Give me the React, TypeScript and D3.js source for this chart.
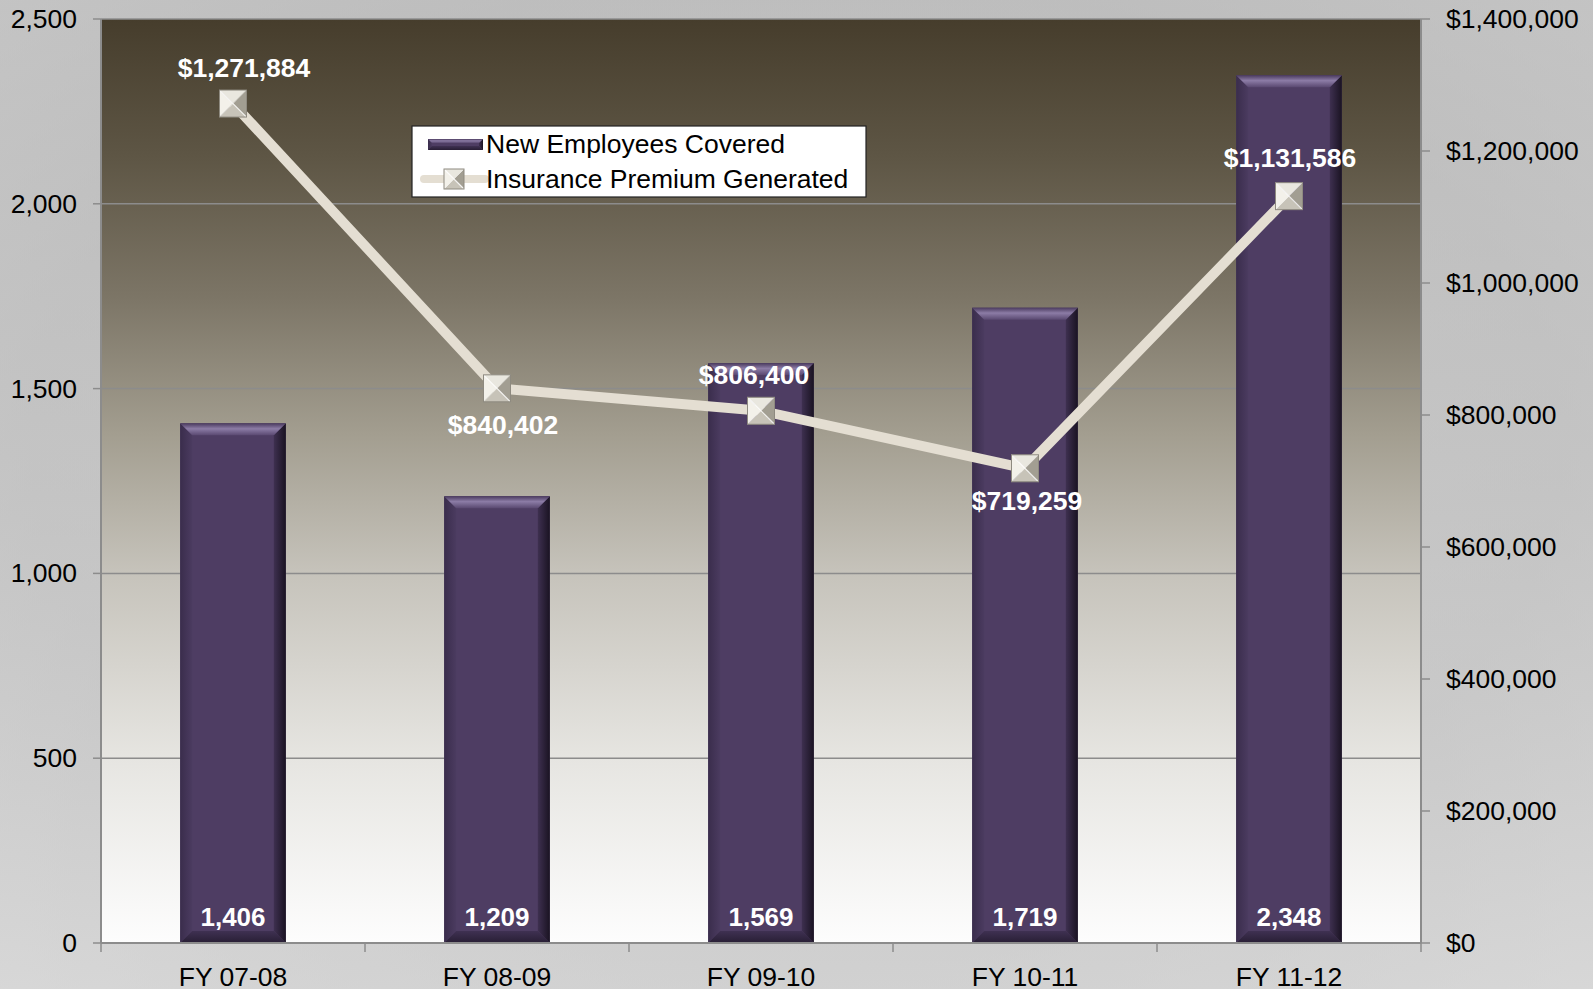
import React from "react";
import * as d3 from "d3";

const categories = ["FY 07-08", "FY 08-09", "FY 09-10", "FY 10-11", "FY 11-12"];
const employeesCovered = [1406, 1209, 1569, 1719, 2348];
const premiumGenerated = [1271884, 840402, 806400, 719259, 1131586];
const leftTicks = [0, 500, 1000, 1500, 2000, 2500];
const rightTicks = [0, 200000, 400000, 600000, 800000, 1000000, 1200000, 1400000];
const seriesNames = ["New Employees Covered", "Insurance Premium Generated"];

const W = 1593;
const H = 989;
const M = { left: 101, right: 1421, top: 19, bottom: 943 };
const FONT = "'Liberation Sans', Arial, Helvetica, sans-serif";
const FS = 26.5;
const BAR = "#4E3D63";
const LINE = "#E4DED2";

const fmtInt = d3.format(",");
const fmtDollar = (v: number) => "$" + d3.format(",")(v);

function BevelBar({ x, y, w, h, b }: { x: number; y: number; w: number; h: number; b: number }) {
  const bb = Math.min(b, h / 2);
  return (
    <g>
      <rect x={x} y={y} width={w} height={h} fill={BAR} />
      <polygon
        points={`${x},${y} ${x + bb},${y + bb} ${x + bb},${y + h - bb} ${x},${y + h}`}
        fill="url(#bevLeft)"
      />
      <polygon
        points={`${x + w},${y} ${x + w - bb},${y + bb} ${x + w - bb},${y + h - bb} ${x + w},${y + h}`}
        fill="url(#bevRight)"
      />
      <polygon
        points={`${x},${y + h} ${x + bb},${y + h - bb} ${x + w - bb},${y + h - bb} ${x + w},${y + h}`}
        fill="url(#bevBottom)"
      />
      <polygon
        points={`${x},${y} ${x + w},${y} ${x + w - bb},${y + bb} ${x + bb},${y + bb}`}
        fill="url(#bevTop)"
      />
    </g>
  );
}

function Marker({ cx, cy, s }: { cx: number; cy: number; s: number }) {
  const h = s / 2;
  const x0 = cx - h, x1 = cx + h, y0 = cy - h, y1 = cy + h;
  return (
    <g>
      <polygon points={`${x0},${y0} ${x1},${y0} ${cx},${cy}`} fill="#E9E7DF" />
      <polygon points={`${x0},${y0} ${x0},${y1} ${cx},${cy}`} fill="#F3F1EA" />
      <polygon points={`${x1},${y0} ${x1},${y1} ${cx},${cy}`} fill="#A29E92" />
      <polygon points={`${x0},${y1} ${x1},${y1} ${cx},${cy}`} fill="#C7C3B8" />
      <line x1={x0} y1={y0} x2={x1} y2={y1} stroke="#FFFFFF" strokeWidth={1.2} opacity={0.8} />
      <line x1={x1} y1={y0} x2={x0} y2={y1} stroke="#FFFFFF" strokeWidth={1} opacity={0.5} />
      <rect x={x0} y={y0} width={s} height={s} fill="none" stroke="#8E8A80" strokeWidth={1} />
    </g>
  );
}

export default function App() {
  const x = d3
    .scaleBand<string>()
    .domain(categories)
    .range([M.left, M.right])
    .paddingInner(0.6)
    .paddingOuter(0.3);
  const step = x.step();
  const yL = d3.scaleLinear().domain([0, 2500]).range([M.bottom, M.top]);
  const yR = d3.scaleLinear().domain([0, 1400000]).range([M.bottom, M.top]);

  const cxOf = (i: number) => (x(categories[i]) as number) + x.bandwidth() / 2;

  const lineGen = d3
    .line<number>()
    .x((_, i) => cxOf(i))
    .y((d) => yR(d));

  // label placement (above / below the marker) and small nudges as in the reference
  const labelAbove = [true, false, true, false, true];
  const labelDx = [11, 6, -7, 2, 1];
  const labelDy = [-27, 46, -27, 42, -29];

  const boundaries = d3.range(categories.length + 1).map((i) => M.left + i * step);

  return (
    <svg
      width={W}
      height={H}
      style={{ position: "fixed", left: 0, top: 0 }}
      fontFamily={FONT}
    >
      <defs>
        <radialGradient id="outerBg" cx="0.5" cy="0.45" r="0.8">
          <stop offset="0" stopColor="#C9C9C9" />
          <stop offset="0.6" stopColor="#C2C2C2" />
          <stop offset="1" stopColor="#D6D6D6" />
        </radialGradient>
        <linearGradient id="outerV" x1="0" y1="0" x2="0" y2="1">
          <stop offset="0" stopColor="#B9B9B9" />
          <stop offset="0.5" stopColor="#C6C6C6" />
          <stop offset="1" stopColor="#DCDCDC" />
        </linearGradient>
        <linearGradient id="plotBg" x1="0" y1="0" x2="0" y2="1">
          <stop offset="0" stopColor="#463D2C" />
          <stop offset="0.15" stopColor="#5E5645" />
          <stop offset="0.3" stopColor="#7C7566" />
          <stop offset="0.45" stopColor="#A39E90" />
          <stop offset="0.6" stopColor="#C6C3BB" />
          <stop offset="0.8" stopColor="#E6E5E1" />
          <stop offset="1" stopColor="#FDFDFD" />
        </linearGradient>
        <linearGradient id="bevTop" x1="0" y1="0" x2="0" y2="1">
          <stop offset="0" stopColor="#4A3A5E" />
          <stop offset="0.45" stopColor="#8C7CA6" />
          <stop offset="1" stopColor="#5A4971" />
        </linearGradient>
        <linearGradient id="bevRight" x1="0" y1="0" x2="1" y2="0">
          <stop offset="0" stopColor="#3E3050" />
          <stop offset="1" stopColor="#1A1322" />
        </linearGradient>
        <linearGradient id="bevLeft" x1="0" y1="0" x2="1" y2="0">
          <stop offset="0" stopColor="#3A2D4C" />
          <stop offset="1" stopColor="#4B3B60" />
        </linearGradient>
        <linearGradient id="bevBottom" x1="0" y1="0" x2="0" y2="1">
          <stop offset="0" stopColor="#3F3152" />
          <stop offset="1" stopColor="#281E34" />
        </linearGradient>
      </defs>

      <rect x={0} y={0} width={W} height={H} fill="url(#outerV)" />
      <rect x={0} y={0} width={W} height={H} fill="url(#outerBg)" opacity={0.5} />

      <rect
        x={M.left}
        y={M.top}
        width={M.right - M.left}
        height={M.bottom - M.top}
        fill="url(#plotBg)"
      />

      {leftTicks.map((t) => (
        <line
          key={"g" + t}
          x1={M.left}
          x2={M.right}
          y1={yL(t)}
          y2={yL(t)}
          stroke="#8C8C8C"
          strokeWidth={1.5}
        />
      ))}

      {categories.map((c, i) => {
        const bx = x(c) as number;
        const by = yL(employeesCovered[i]);
        return (
          <BevelBar key={c} x={bx} y={by} w={x.bandwidth()} h={yL(0) - by} b={12} />
        );
      })}

      {/* axes */}
      <line x1={M.left} x2={M.left} y1={M.top} y2={M.bottom} stroke="#8C8C8C" strokeWidth={2} />
      <line x1={M.right} x2={M.right} y1={M.top} y2={M.bottom} stroke="#8C8C8C" strokeWidth={2} />
      <line x1={M.left} x2={M.right} y1={M.bottom} y2={M.bottom} stroke="#8C8C8C" strokeWidth={2} />

      {leftTicks.map((t) => (
        <g key={"lt" + t}>
          <line x1={M.left - 8} x2={M.left} y1={yL(t)} y2={yL(t)} stroke="#8C8C8C" strokeWidth={1.5} />
          <text
            x={77}
            y={yL(t)}
            textAnchor="end"
            dominantBaseline="central"
            fontSize={FS}
            fill="#000"
          >
            {fmtInt(t)}
          </text>
        </g>
      ))}

      {rightTicks.map((t) => (
        <g key={"rt" + t}>
          <line x1={M.right} x2={M.right + 9} y1={yR(t)} y2={yR(t)} stroke="#8C8C8C" strokeWidth={1.5} />
          <text
            x={1446}
            y={yR(t)}
            textAnchor="start"
            dominantBaseline="central"
            fontSize={FS}
            fill="#000"
          >
            {fmtDollar(t)}
          </text>
        </g>
      ))}

      {boundaries.map((bx, i) => (
        <line
          key={"xt" + i}
          x1={bx}
          x2={bx}
          y1={M.bottom}
          y2={M.bottom + 9}
          stroke="#8C8C8C"
          strokeWidth={1.5}
        />
      ))}

      {categories.map((c, i) => (
        <text
          key={"xl" + c}
          x={cxOf(i)}
          y={986}
          textAnchor="middle"
          fontSize={FS}
          fill="#000"
        >
          {c}
        </text>
      ))}

      {/* bar value labels */}
      {categories.map((c, i) => (
        <text
          key={"bl" + c}
          x={cxOf(i)}
          y={yL(0) - 17}
          textAnchor="middle"
          fontSize={26}
          fontWeight="bold"
          fill="#FFFFFF"
        >
          {fmtInt(employeesCovered[i])}
        </text>
      ))}

      {/* premium line */}
      <path
        d={lineGen(premiumGenerated) || ""}
        fill="none"
        stroke={LINE}
        strokeWidth={10}
        strokeLinejoin="round"
      />
      {premiumGenerated.map((v, i) => (
        <Marker key={"m" + i} cx={cxOf(i)} cy={yR(v)} s={27} />
      ))}
      {premiumGenerated.map((v, i) => (
        <text
          key={"pl" + i}
          x={cxOf(i) + labelDx[i]}
          y={yR(v) + labelDy[i]}
          textAnchor="middle"
          fontSize={26.5}
          fontWeight="bold"
          fill="#FFFFFF"
          data-above={labelAbove[i] ? "1" : "0"}
        >
          {fmtDollar(v)}
        </text>
      ))}

      {/* legend */}
      <g>
        <rect x={412} y={126} width={454} height={71} fill="#FFFFFF" stroke="#222" strokeWidth={1.2} />
        <BevelBar x={428} y={139} w={55} h={11} b={4} />
        <text x={486} y={153} fontSize={FS} fill="#000">
          {seriesNames[0]}
        </text>
        <line x1={424} x2={485} y1={179} y2={179} stroke={LINE} strokeWidth={8} strokeLinecap="round" />
        <Marker cx={454} cy={179} s={20} />
        <text x={486} y={188} fontSize={FS} fill="#000">
          {seriesNames[1]}
        </text>
      </g>
    </svg>
  );
}
